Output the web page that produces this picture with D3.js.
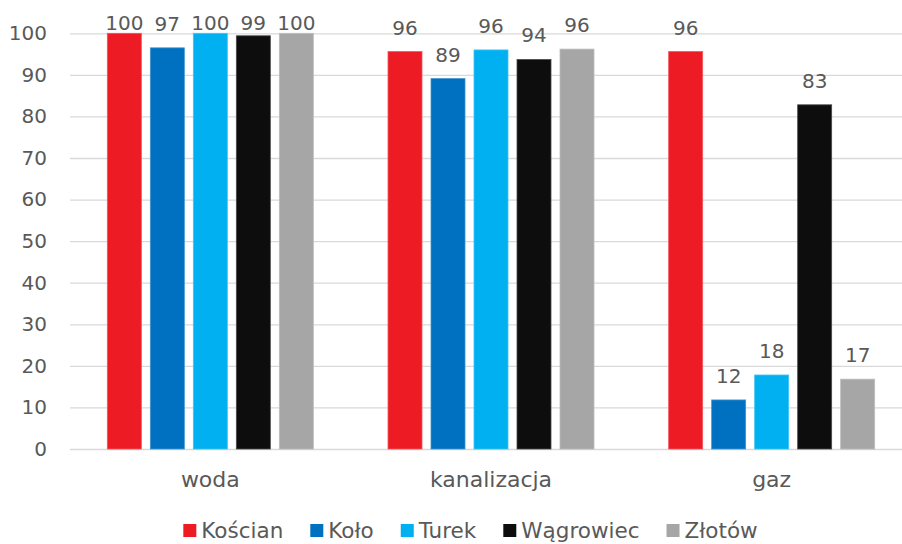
<!DOCTYPE html>
<html>
<head>
<meta charset="utf-8">
<script src="https://cdn.jsdelivr.net/npm/d3@7"></script>
<style>
  html, body { margin: 0; padding: 0; background: #fff; overflow: hidden; }
  svg { display: block; }
  text { font-family: "DejaVu Sans", sans-serif; fill: #595959; }
</style>
</head>
<body>
<svg id="chart" width="902" height="544"></svg>
<script>
// ---- data ----
const categories = ["woda", "kanalizacja", "gaz"];
const series = ["Kościan", "Koło", "Turek", "Wągrowiec", "Złotów"];
const kosciam = [100, 95.6, 95.6];
const kolo = [96.5, 89.1, 11.8];
const turek = [100, 96.0, 17.8];
const wagrowiec = [99.4, 93.7, 82.8];
const zlotow = [100, 96.2, 16.8];
const seriesValues = [kosciam, kolo, turek, wagrowiec, zlotow];
const colors = ["#ED1C24", "#0070C0", "#00B0F0", "#0D0D0D", "#A6A6A6"];
const yTicks = [0, 10, 20, 30, 40, 50, 60, 70, 80, 90, 100];

// ---- layout ----
const W = 902, H = 544;
const plotLeft = 70, plotRight = 912, plotTop = 33.3, plotBottom = 449;
const svg = d3.select("#chart");

const x = d3.scaleBand().domain(categories).range([plotLeft, plotRight]).padding(0);
const groupW = 206;
const xi = d3.scaleBand().domain(series)
  .range([(x.bandwidth() - groupW) / 2, (x.bandwidth() + groupW) / 2])
  .paddingInner(9 / 43).paddingOuter(0);
const y = d3.scaleLinear().domain([0, 100]).range([plotBottom, plotTop]);

// gridlines
const grid = svg.append("g").attr("transform", `translate(${plotLeft},0)`)
  .call(d3.axisLeft(y).tickValues(yTicks).tickSize(-(W - plotLeft)).tickFormat(""));
grid.select(".domain").remove();
grid.selectAll(".tick line").attr("stroke", "#d9d9d9").attr("stroke-width", 1.3);

// y axis labels
const yAxis = svg.append("g").attr("transform", `translate(${plotLeft},0)`)
  .call(d3.axisLeft(y).tickValues(yTicks).tickSize(0).tickPadding(23));
yAxis.select(".domain").remove();
yAxis.selectAll("text").style("font-size", "20px").attr("fill", "#595959")
  .style("font-family", "DejaVu Sans, sans-serif");

// bars
const rows = [];
categories.forEach((c, ci) => {
  series.forEach((s, si) => rows.push({ cat: c, ser: s, si, v: seriesValues[si][ci] }));
});
svg.append("g").selectAll("rect").data(rows).join("rect")
  .attr("x", d => x(d.cat) + xi(d.ser))
  .attr("y", d => y(d.v))
  .attr("width", xi.bandwidth())
  .attr("height", d => y(0) - y(d.v))
  .attr("fill", d => colors[d.si])
  .attr("stroke", d => d3.interpolateRgb(colors[d.si], "#ffffff")(0.25))
  .attr("stroke-width", 0.8);

// data labels
svg.append("g").selectAll("text").data(rows).join("text")
  .attr("x", d => x(d.cat) + xi(d.ser) + xi.bandwidth() / 2)
  .attr("y", d => Math.max(y(d.v) - 17, 29.5))
  .attr("text-anchor", "middle")
  .style("font-size", "20px")
  .text(d => Math.round(d.v));

// category labels
svg.append("g").selectAll("text").data(categories).join("text")
  .attr("x", d => x(d) + x.bandwidth() / 2)
  .attr("y", 487)
  .attr("text-anchor", "middle")
  .style("font-size", "22px")
  .text(d => d);

// legend
const legend = svg.append("g");
const items = legend.selectAll("g").data(series).join("g");
items.append("rect").attr("width", 13).attr("height", 13).attr("y", 524)
  .attr("fill", (d, i) => colors[i]);
items.append("text").attr("x", 18).attr("y", 538).style("font-size", "21.5px").text(d => d);
let cx = 0;
const offsets = [];
items.each(function () {
  offsets.push(cx);
  const tw = d3.select(this).select("text").node().getComputedTextLength();
  cx += 18 + tw + 27;
});
const total = cx - 27;
const startX = 470.5 - total / 2;
items.attr("transform", (d, i) => `translate(${startX + offsets[i]},0)`);
</script>
</body>
</html>
